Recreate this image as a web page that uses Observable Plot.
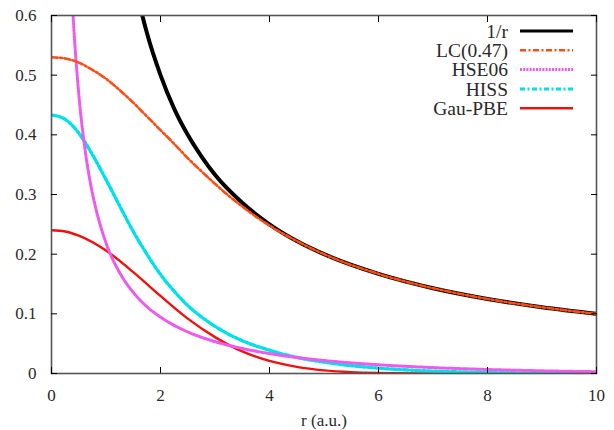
<!DOCTYPE html>
<html><head><meta charset="utf-8">
<script src="https://cdn.jsdelivr.net/npm/d3@7"></script>
<script src="https://cdn.jsdelivr.net/npm/@observablehq/plot@0.6"></script>
<style>body{margin:0;background:#fff}</style>
</head><body><div id="chart"></div>
<script>
// ---- data ----
const seriesNames = ["1/r", "LC(0.47)", "HSE06", "HISS", "Gau-PBE"];
const seriesColors = ["#000000", "#ff4a10", "#ee5aee", "#00e0e8", "#f01010"];

const rInv = [1.5, 1.6, 1.75, 2, 2.25, 2.5, 2.75, 3, 3.5, 4, 4.5, 5, 6, 7, 8, 9, 10];
const vInv = [0.667, 0.625, 0.571, 0.5, 0.444, 0.4, 0.364, 0.333, 0.286, 0.25, 0.222, 0.2, 0.167, 0.143, 0.125, 0.111, 0.1];

const rLC = [0, 0.25, 0.5, 0.75, 1, 1.25, 1.5, 1.75, 2, 2.25, 2.5, 2.75, 3, 3.25, 3.5, 3.75, 4, 4.5, 5, 6, 7, 8, 9, 10];
const vLC = [0.530, 0.528, 0.521, 0.509, 0.494, 0.475, 0.454, 0.431, 0.408, 0.385, 0.361, 0.339, 0.318, 0.298, 0.280, 0.263, 0.248, 0.222, 0.200, 0.167, 0.143, 0.125, 0.111, 0.100];

const rHSE = [0.3, 0.35, 0.4, 0.5, 0.6, 0.7, 0.8, 1, 1.25, 1.5, 1.75, 2, 2.5, 3, 3.5, 4, 5, 6, 7, 8, 9, 10];
const vHSE = [0.802, 0.683, 0.594, 0.469, 0.386, 0.326, 0.282, 0.219, 0.169, 0.136, 0.112, 0.0945, 0.0697, 0.0534, 0.0419, 0.0334, 0.0218, 0.0146, 0.0099, 0.0067, 0.0045, 0.0030];

const rHISS = [0, 0.125, 0.25, 0.5, 0.75, 1, 1.25, 1.5, 1.75, 2, 2.25, 2.5, 2.75, 3, 3.5, 4, 4.5, 5, 6, 7, 8, 9, 10];
const vHISS = [0.433, 0.431, 0.426, 0.403, 0.367, 0.325, 0.281, 0.238, 0.200, 0.166, 0.138, 0.114, 0.095, 0.079, 0.055, 0.039, 0.027, 0.019, 0.009, 0.004, 0.0018, 0.0007, 0.0003];

const rGau = [0, 0.25, 0.5, 1, 1.5, 2, 2.5, 3, 3.5, 4, 4.5, 5, 5.5, 6, 7, 8, 9, 10];
const vGau = [0.240, 0.238, 0.231, 0.206, 0.170, 0.130, 0.092, 0.061, 0.037, 0.021, 0.011, 0.0052, 0.0023, 0.001, 0.0001, 0, 0, 0];

const xTicks = [0, 2, 4, 6, 8, 10];
const xTickLabels = ["0", "2", "4", "6", "8", "10"];
const yTicks = [0, 0.1, 0.2, 0.3, 0.4, 0.5, 0.6];
const yTickLabels = ["0", "0.1", "0.2", "0.3", "0.4", "0.5", "0.6"];
const xLabel = "r (a.u.)";

// ---- build ----
const serif = "Liberation Serif";
const textCol = "#2a2a2a";
const toRows = (rs, vs) => rs.map((r, i) => ({r, v: vs[i]}));
const series = [
  {data: toRows(rInv, vInv), w: 4, dash: null},
  {data: toRows(rLC, vLC), w: 2.6, dash: "6,2.5,2,2.5"},
  {data: toRows(rHSE, vHSE), w: 3, dash: "2,1.2"},
  {data: toRows(rHISS, vHISS), w: 3.4, dash: "5,2.5,2,2.5"},
  {data: toRows(rGau, vGau), w: 2.4, dash: null}
];
const drawOrder = [4, 3, 2, 0, 1];

const lineMarks = drawOrder.map(i => Plot.line(series[i].data, {
  x: "r", y: "v", stroke: seriesColors[i], strokeWidth: series[i].w,
  strokeDasharray: series[i].dash, curve: "monotone-x", clip: true
}));

const plot = Plot.plot({
  width: 614, height: 430,
  marginLeft: 51, marginRight: 18, marginTop: 15, marginBottom: 57,
  x: {domain: [0, 10]},
  y: {domain: [0, 0.6]},
  marks: [
    ...lineMarks,
    Plot.frame({stroke: "#555", strokeWidth: 1.6}),
    Plot.axisX({anchor: "bottom", ticks: xTicks, tickSize: -6, tickPadding: 21, fontFamily: serif, fontSize: 17, fill: textCol, tickFormat: (d, i) => xTickLabels[i], label: null}),
    Plot.axisX({anchor: "top", ticks: xTicks, tickSize: -6, tickFormat: () => "", label: null}),
    Plot.axisY({anchor: "left", ticks: yTicks, tickSize: -6, tickPadding: 21, fontFamily: serif, fontSize: 17, fill: textCol, tickFormat: (d, i) => yTickLabels[i], label: null}),
    Plot.axisY({anchor: "right", ticks: yTicks, tickSize: -6, tickFormat: () => "", label: null}),
    Plot.text([xLabel], {frameAnchor: "bottom", dy: 52, text: d => d, fontFamily: serif, fontSize: 17, fill: textCol})
  ]
});
document.getElementById("chart").appendChild(plot);

// ---- legend (inside, top right) ----
const svg = d3.select(plot);
const lg = svg.append("g");
seriesNames.forEach((name, i) => {
  const y = 31 + i * 19.3;
  lg.append("text").attr("x", 508).attr("y", y).attr("dy", "0.35em")
    .attr("text-anchor", "end").attr("fill", textCol)
    .style("font-family", serif).style("font-size", "19.5px").text(name);
  lg.append("line").attr("x1", 520).attr("x2", 573).attr("y1", y).attr("y2", y)
    .attr("stroke", seriesColors[i]).attr("stroke-width", Math.min(series[i].w, 3))
    .attr("stroke-dasharray", series[i].dash);
});
</script>
</body></html>
